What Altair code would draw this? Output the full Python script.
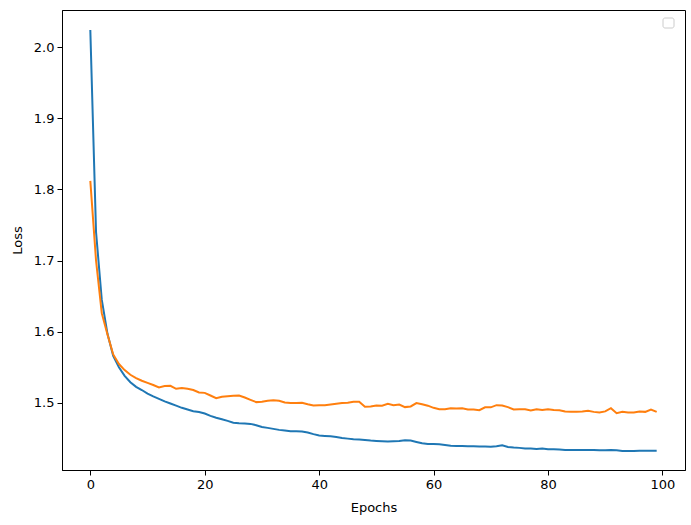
import altair as alt
import pandas as pd

epochs = list(range(100))

train_loss = [
    2.024, 1.740, 1.645, 1.597, 1.566, 1.550, 1.538, 1.529, 1.5225, 1.518,
    1.513, 1.509, 1.5056, 1.502, 1.499, 1.496, 1.493, 1.4906, 1.4883, 1.487,
    1.485, 1.4817, 1.479, 1.477, 1.4746, 1.472, 1.4714, 1.471, 1.4704, 1.4686,
    1.466, 1.4648, 1.4634, 1.462, 1.461, 1.460, 1.4600, 1.4596, 1.4582, 1.456,
    1.454, 1.4535, 1.453, 1.452, 1.4507, 1.4497, 1.4488, 1.4485, 1.4479, 1.4469,
    1.4465, 1.446, 1.4455, 1.446, 1.4465, 1.4474, 1.4469, 1.445, 1.4432, 1.4422,
    1.4422, 1.4418, 1.4408, 1.4398, 1.4394, 1.4394, 1.439, 1.439, 1.4386, 1.4386,
    1.4382, 1.439, 1.4404, 1.438, 1.4371, 1.4367, 1.4357, 1.4357, 1.4352, 1.4357,
    1.4347, 1.4347, 1.4343, 1.4338, 1.4338, 1.4338, 1.4338, 1.4338, 1.4338, 1.4333,
    1.4333, 1.4338, 1.4333, 1.4324, 1.4324, 1.4324, 1.4328, 1.4328, 1.4328, 1.4328,
]

val_loss = [
    1.812, 1.700, 1.626, 1.596, 1.568, 1.5545, 1.546, 1.5394, 1.5348, 1.531,
    1.528, 1.525, 1.5216, 1.5235, 1.524, 1.5197, 1.5207, 1.5197, 1.518, 1.5145,
    1.514, 1.5103, 1.5066, 1.5085, 1.5094, 1.510, 1.5103, 1.5075, 1.5042, 1.501,
    1.5014, 1.503, 1.5037, 1.503, 1.5005, 1.4996, 1.4998, 1.500, 1.498, 1.4962,
    1.4967, 1.4967, 1.4977, 1.4986, 1.4996, 1.500, 1.5014, 1.5014, 1.4944, 1.4949,
    1.4962, 1.496, 1.4986, 1.4967, 1.4977, 1.494, 1.4949, 1.4996, 1.498, 1.496,
    1.493, 1.4911, 1.4911, 1.4925, 1.492, 1.4925, 1.4906, 1.4906, 1.4897, 1.4937,
    1.4937, 1.4967, 1.4963, 1.494, 1.4906, 1.491, 1.491, 1.4892, 1.491, 1.490,
    1.491, 1.490, 1.4897, 1.4878, 1.4873, 1.4873, 1.4878, 1.4887, 1.4873, 1.4864,
    1.488, 1.4925, 1.4855, 1.4873, 1.4864, 1.4864, 1.4878, 1.4873, 1.4906, 1.4873,
]

series_names = ["train", "val"]
series_colors = ["#1f77b4", "#ff7f0e"]

df = pd.DataFrame({
    "epoch": epochs * 2,
    "loss": train_loss + val_loss,
    "series": ["train"] * len(epochs) + ["val"] * len(epochs),
})

FONT = "DejaVu Sans"

lines = alt.Chart(df).mark_line(strokeWidth=2, clip=True).encode(
    x=alt.X("epoch:Q", title="Epochs",
            scale=alt.Scale(domain=[-4.95, 103.95], nice=False, zero=False),
            axis=alt.Axis(values=[0, 20, 40, 60, 80, 100], format="d")),
    y=alt.Y("loss:Q", title="Loss",
            scale=alt.Scale(domain=[1.4056, 2.0521], nice=False, zero=False),
            axis=alt.Axis(values=[1.5, 1.6, 1.7, 1.8, 1.9, 2.0], format=".1f")),
    color=alt.Color("series:N", scale=alt.Scale(domain=series_names, range=series_colors), legend=None),
    detail="series:N",
)

# empty legend box (matplotlib legend with no handles)
legend_box = alt.Chart(pd.DataFrame({"a": [0]})).mark_rect(
    fill="white", stroke="#cccccc", strokeWidth=1, cornerRadius=2
).encode(
    x=alt.value(601), x2=alt.value(612), y=alt.value(8), y2=alt.value(18)
)

chart = alt.layer(lines, legend_box).properties(
    width=623, height=460,
    padding={"left": 62, "top": 10, "right": 6, "bottom": 55},
    autosize=alt.AutoSizeParams(type="none"),
).configure_view(
    stroke="black", strokeWidth=1
).configure_axis(
    grid=False,
    domainColor="black",
    domainWidth=1,
    tickColor="black",
    tickSize=5,
    tickWidth=1,
    labelFont=FONT,
    labelFontSize=13,
    labelColor="black",
    labelPadding=3,
    titleFont=FONT,
    titleFontSize=13,
    titleFontWeight="normal",
    titleColor="black",
).configure_axisX(
    titlePadding=10,
).configure_axisY(
    titlePadding=9,
)

chart.save("out.html", embed_options={"renderer": "svg", "actions": False})
